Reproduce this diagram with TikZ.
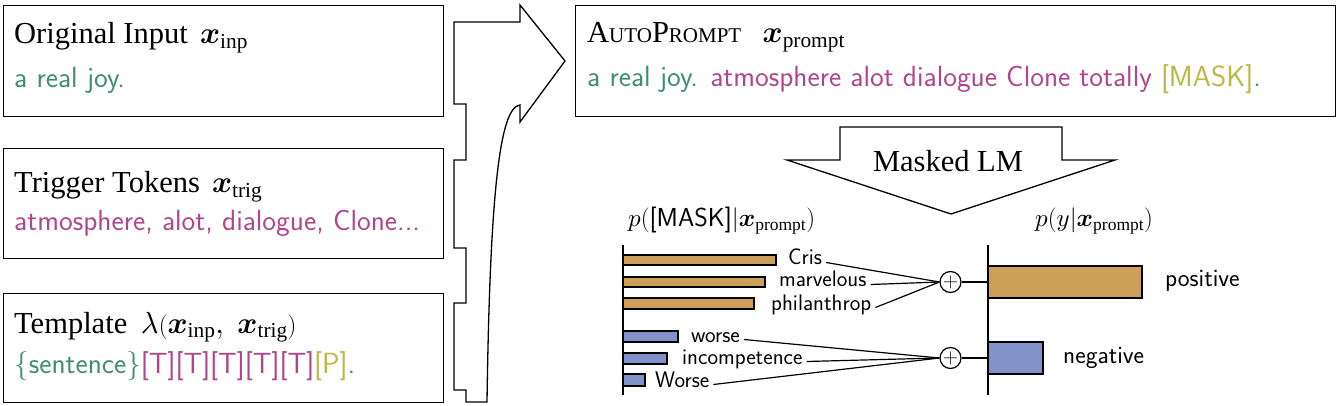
\documentclass[tikz,border=0pt]{standalone}
\usepackage{amsmath}
\usepackage{bm}
\usepackage{fontspec}
\setmainfont{Liberation Serif}
\DeclareFontShape{OML}{cmm}{m}{it}{<->cmmi10}{}
\DeclareFontShape{OML}{cmm}{b}{it}{<->cmmib10}{}
\DeclareFontShape{OMS}{cmsy}{m}{n}{<->cmsy10}{}
\DeclareFontShape{OMS}{cmsy}{b}{n}{<->cmbsy10}{}
\definecolor{cTeal}{RGB}{64,140,120}
\definecolor{cMag}{RGB}{175,70,140}
\definecolor{cOli}{RGB}{185,185,70}
\definecolor{cOr}{RGB}{205,160,90}
\definecolor{cBl}{RGB}{130,145,200}
\newcommand\xv{\boldsymbol{x}}
\tikzset{
  box/.style={draw, line width=1.3pt, anchor=north west, inner sep=0pt},
  ttl/.style={font=\fontsize{30.5}{36}\selectfont, anchor=base west, inner sep=0pt},
  sns/.style={font=\fontsize{29.2}{34}\selectfont\sffamily, anchor=base west, inner sep=0pt},
  head/.style={font=\fontsize{25}{30}\selectfont, anchor=base west, inner sep=0pt},
  lab/.style={font=\fontsize{22.5}{27}\selectfont\sffamily, anchor=base west, inner xsep=4pt, inner ysep=0pt, text height=0.7em, text depth=0.2em},
  big/.style={font=\fontsize{25}{30}\selectfont\sffamily, anchor=base west, inner sep=0pt},
  bar/.style={draw, line width=1.2pt},
  ln/.style={line width=1.2pt},
  plus/.style={circle, draw, line width=1.2pt, minimum size=21pt, inner sep=0pt, font=\fontsize{22}{22}\selectfont},
}
\begin{document}
\begin{tikzpicture}[x=1pt,y=-1pt]
\useasboundingbox (0,0) rectangle (1342,406);
% left boxes
\node[box, minimum width=440pt, minimum height=111pt] (b1) at (3,5) {};
\node[box, minimum width=440pt, minimum height=110pt] (b2) at (3,148) {};
\node[box, minimum width=440pt, minimum height=109pt] (b3) at (3,293) {};
\node[ttl] (t1) at (14,44) {Original Input\hspace{0.4em}$\xv_{\text{inp}}$};
\node[sns, text=cTeal] (s1) at (14,88) {a real joy.};
\node[ttl] (t2) at (14,193) {Trigger Tokens\hspace{0.4em}$\xv_{\text{trig}}$};
\node[sns, text=cMag] (s2) at (14,231) {atmosphere, alot, dialogue, Clone...};
\node[ttl] (t3) at (14,333) {Template\hspace{0.45em}$\lambda(\xv_{\text{inp}},\;\xv_{\text{trig}})$};
\node[sns] (s3) at (14,373) {\textcolor{cTeal}{\{sentence\}}\textcolor{cMag}{[T][T][T][T][T]}\textcolor{cOli}{[P]}\textcolor{cTeal}{.}};
% merge arrow
\draw[line width=1.3pt, line join=miter] (454,22) -- (520,22) -- (520,5) -- (565,61) -- (520,122) -- (520,105)
  .. controls (500,107) and (490,190) .. (487,402) -- (466,402) -- (466,390) -- (454,390)
  -- (454,303) -- (466,303) -- (466,248) -- (454,248) -- (454,160) -- (466,160) -- (466,104) -- (454,104) -- cycle;
% autoprompt box
\node[box, minimum width=760pt, minimum height=111pt] (b4) at (575,5) {};
\node[ttl] (tp) at (587,43) {A{\fontsize{21}{25}\selectfont UTO}P{\fontsize{21}{25}\selectfont ROMPT}\hspace{0.7em}$\xv_{\text{prompt}}$};
\node[sns] (sp) at (587,87) {\textcolor{cTeal}{a real joy.} \textcolor{cMag}{atmosphere alot dialogue Clone totally} \textcolor{cOli}{[MASK]}\textcolor{cTeal}{.}};
% masked LM arrow
\draw[line width=1.3pt, line join=miter] (840,127) -- (1062,127) -- (1062,160) -- (1115,160) -- (951,214) -- (787,160) -- (840,160) -- cycle;
\node[ttl, anchor=base] (mlm) at (948,172) {Masked LM};
% headings
\node[head] (h1) at (628,227) {$p(\text{\fontsize{26}{30}\selectfont\sffamily[MASK]}|\xv_{\text{prompt}})$};
\node[head] (h2) at (1035,227) {$p(y|\xv_{\text{prompt}})$};
% axes
\coordinate (a1t) at (623,245); \coordinate (a1b) at (623,395);
\coordinate (a2t) at (988,245); \coordinate (a2b) at (988,395);
\draw[ln] (a1t) -- (a1b);
\draw[ln] (a2t) -- (a2b);
% bars
\draw[bar, fill=cOr] (623,255) rectangle (776,265);
\draw[bar, fill=cOr] (623,277) rectangle (765,287);
\draw[bar, fill=cOr] (623,298) rectangle (754,309);
\draw[bar, fill=cBl] (623,331) rectangle (678,342);
\draw[bar, fill=cBl] (623,353) rectangle (667,364);
\draw[bar, fill=cBl] (623,374) rectangle (645,386);
\draw[bar, fill=cOr] (988,266) rectangle (1142,298);
\draw[bar, fill=cBl] (988,342) rectangle (1043,374);
% labels
\node[lab] (l1) at (784,265) {Cris};
\node[lab] (l2) at (775,287) {marvelous};
\node[lab] (l3) at (767,310) {philanthrop};
\node[lab] (l4) at (687,342) {worse};
\node[lab] (l5) at (678,364) {incompetence};
\node[lab] (l6) at (651,387) {Worse};
\node[plus] (c1) at (950.5,282) {$+$};
\node[plus] (c2) at (950.5,358) {$+$};
\foreach \l in {l1,l2,l3} \draw[ln] (\l.east) -- (c1.west);
\foreach \l in {l4,l5,l6} \draw[ln] (\l.east) -- (c2.west);
\coordinate (p1) at (988,282); \coordinate (p2) at (988,358);
\draw[ln] (c1.east) -- (p1);
\draw[ln] (c2.east) -- (p2);
\node[big] (pos) at (1165,287) {positive};
\node[big] (neg) at (1063,363) {negative};
\end{tikzpicture}
\end{document}
